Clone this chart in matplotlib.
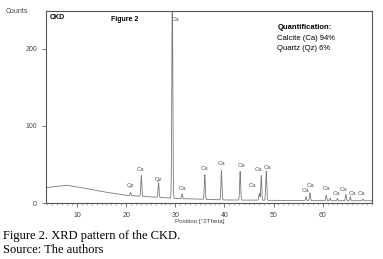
import numpy as np
import matplotlib
matplotlib.use("Agg")
import matplotlib.pyplot as plt
from matplotlib.ticker import MultipleLocator

plt.rcParams["font.family"] = ["Liberation Sans", "DejaVu Sans"]

# background (counts)
bg_pos = [3.7, 5, 8, 10, 15, 20, 25, 30, 40, 50, 60, 70]
bg_cnt = [20, 21, 23, 21, 15, 10, 8, 6, 4, 3.5, 3, 3]

# peaks: position [°2Theta], height above background [counts]
peak_pos = [20.9, 23.1, 26.6, 29.4, 31.4, 36.0, 39.4, 43.2, 47.1, 47.5, 48.5,
            56.6, 57.4, 60.7, 61.5, 63.0, 64.7, 65.6, 68.2]
peak_cnt = [4, 27, 19, 270, 6, 32, 38, 37, 9, 32, 38,
            5, 10, 7, 3, 3, 8, 5, 2]

# phase labels: text, position, label height [counts]
lab_txt = ["Qz", "Ca", "Qz", "Ca", "Ca", "Ca", "Ca", "Ca", "Ca", "Ca", "Ca",
           "Ca", "Ca", "Ca", "Ca", "Ca", "Ca", "Ca"]
lab_pos = [21.0, 23.0, 26.7, 30.1, 31.5, 36.0, 39.5, 43.4, 45.8, 47.0, 48.8,
           56.5, 57.6, 60.7, 62.9, 64.3, 66.1, 68.0]
lab_cnt = [20, 40, 27, 234, 16, 42, 48, 46, 19, 40, 43,
           13, 19, 16, 9, 14, 9, 9]

x = np.linspace(3.7, 70, 6000)
y = np.interp(x, bg_pos, bg_cnt)
for p, h in zip(peak_pos, peak_cnt):
    y = y + h * np.exp(-0.5 * ((x - p) / 0.1) ** 2)

fig = plt.figure(figsize=(3.83, 2.59), dpi=100)
ax = fig.add_axes([0.120, 0.216, 0.851, 0.742])
ax.plot(x, y, color="#7a7a7a", lw=0.6)
ax.set_xlim(3.7, 70)
ax.set_ylim(0, 249)
ax.set_xticks([10, 20, 30, 40, 50, 60])
ax.xaxis.set_minor_locator(MultipleLocator(1))
ax.set_yticks([0, 100, 200])
ax.tick_params(labelsize=5, colors="#444444", length=3, width=0.5)
ax.tick_params(which="minor", length=1.5, width=0.4, colors="#777777")
for s in ax.spines.values():
    s.set_linewidth(0.8)
    s.set_color("#555555")

for t, p, c in zip(lab_txt, lab_pos, lab_cnt):
    ax.text(p, c, t, fontsize=4.3, color="#555555", ha="center", va="bottom")

ax.text(0.012, 0.985, "CKD", transform=ax.transAxes, fontsize=5,
        fontweight="bold", va="top", ha="left")
ax.text(0.2, 0.975, "Figure 2", transform=ax.transAxes, fontsize=5,
        fontweight="bold", va="top", ha="left")
ax.text(0.71, 0.93, "Quantification:", transform=ax.transAxes, fontsize=5.5,
        fontweight="bold", va="top", ha="left")
ax.text(0.71, 0.875, "Calcite (Ca) 94%", transform=ax.transAxes, fontsize=5.5,
        va="top", ha="left")
ax.text(0.71, 0.825, "Quartz (Qz) 6%", transform=ax.transAxes, fontsize=5.5,
        va="top", ha="left")

fig.text(0.015, 0.97, "Counts", fontsize=5, color="#444444", va="top")
fig.text(0.522, 0.143, "Position [°2Theta]", fontsize=4.5, color="#444444",
         ha="center", va="center")
fig.text(0.008, 0.088, "Figure 2. XRD pattern of the CKD.", fontsize=9,
         family="Liberation Serif", va="center")
fig.text(0.008, 0.033, "Source: The authors", fontsize=9,
         family="Liberation Serif", va="center")

fig.savefig("out.png", dpi=100)
